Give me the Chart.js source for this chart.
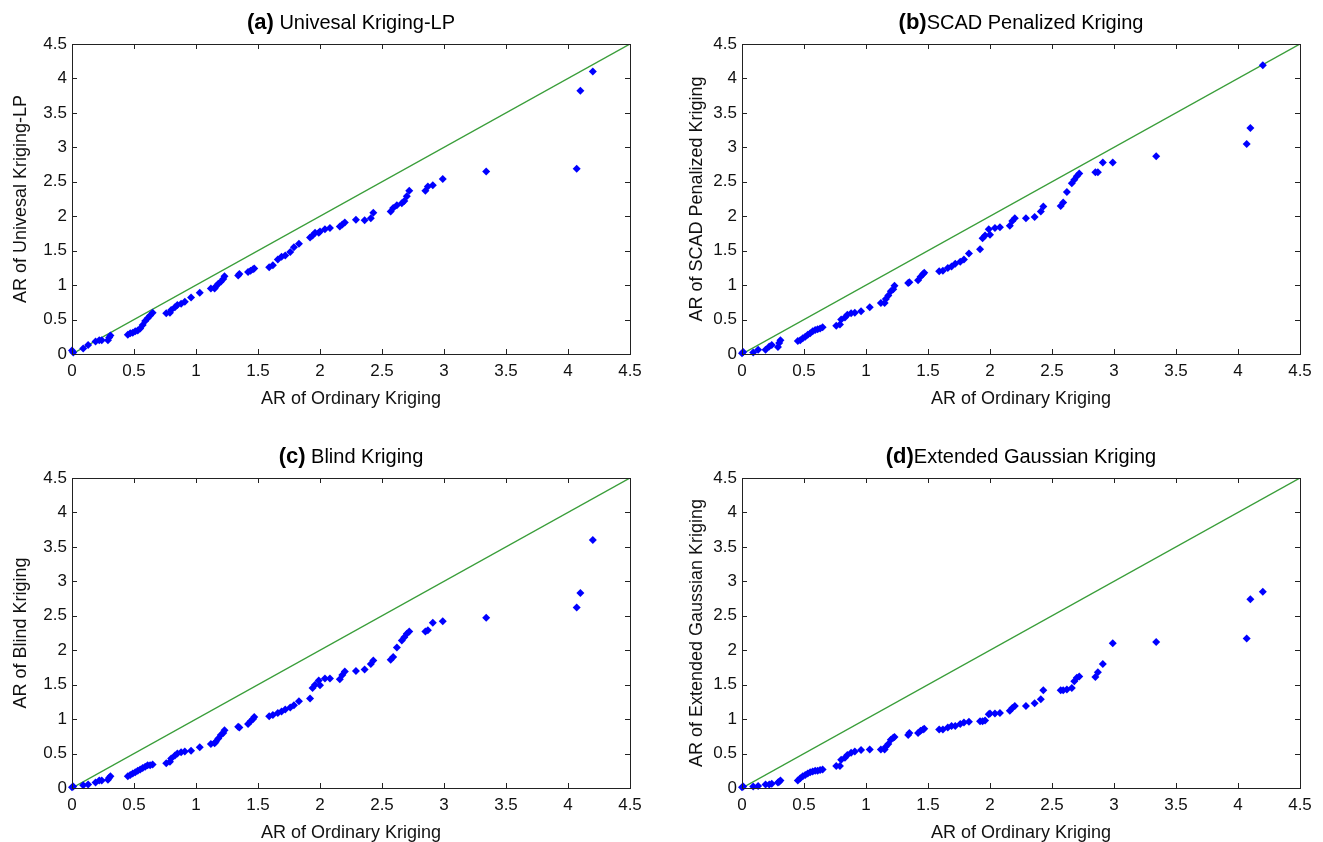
<!DOCTYPE html>
<html>
<head>
<meta charset="utf-8">
<script src="https://cdn.jsdelivr.net/npm/chart.js@4/dist/chart.umd.min.js"></script>
<style>
  html, body { margin: 0; padding: 0; background: #fff; }
  body { width: 1323px; height: 842px; position: relative; overflow: hidden; }
  .panel { position: absolute; width: 661px; height: 434px; }
</style>
</head>
<body>
<div class="panel" style="left:0;top:0"><canvas id="chartA" width="661" height="434"></canvas></div>
<div class="panel" style="left:670px;top:0"><canvas id="chartB" width="661" height="434"></canvas></div>
<div class="panel" style="left:0;top:434px"><canvas id="chartC" width="661" height="434"></canvas></div>
<div class="panel" style="left:670px;top:434px"><canvas id="chartD" width="661" height="434"></canvas></div>
<script>
// AR of Ordinary Kriging (shared x values)
const arOrdinary = [
  0.00, 0.01, 0.09, 0.13, 0.19, 0.22, 0.24, 0.29, 0.30, 0.31,
  0.45, 0.47, 0.49, 0.51, 0.53, 0.55, 0.57, 0.59, 0.61, 0.63, 0.65,
  0.76, 0.79, 0.80, 0.83, 0.85, 0.88, 0.91, 0.96,
  1.03,
  1.12, 1.15, 1.16, 1.18, 1.20, 1.22, 1.23,
  1.34, 1.35,
  1.42, 1.44, 1.46, 1.47,
  1.59, 1.62, 1.66, 1.69, 1.72, 1.76, 1.79, 1.83,
  1.92, 1.94, 1.96, 1.99, 2.00, 2.04, 2.08,
  2.16, 2.18, 2.20,
  2.29,
  2.36, 2.41, 2.43,
  2.57, 2.59, 2.62, 2.66, 2.68, 2.70, 2.72,
  2.85, 2.87, 2.91, 2.99,
  3.34, 4.07, 4.10, 4.20
];

// (a) Univesal Kriging-LP
const arUnivesalLP = [
  0.05, 0.02, 0.08, 0.13, 0.18, 0.20, 0.20, 0.20, 0.24, 0.27,
  0.28, 0.30, 0.31, 0.33, 0.34, 0.37, 0.42, 0.48, 0.52, 0.56, 0.60,
  0.59, 0.60, 0.64, 0.68, 0.71, 0.73, 0.76, 0.82,
  0.89,
  0.95, 0.95, 0.98, 1.02, 1.05, 1.09, 1.13,
  1.14, 1.16,
  1.19, 1.21, 1.23, 1.24,
  1.26, 1.29, 1.37, 1.41, 1.43, 1.48, 1.55, 1.60,
  1.69, 1.72, 1.76, 1.76, 1.78, 1.81, 1.83,
  1.85, 1.88, 1.91,
  1.95,
  1.94, 1.97, 2.05,
  2.07, 2.12, 2.16, 2.19, 2.22, 2.29, 2.37,
  2.37, 2.43, 2.45, 2.54,
  2.65, 2.69, 3.82, 4.10
];

// (b) SCAD Penalized Kriging
const arSCAD = [
  0.01, 0.03, 0.02, 0.06, 0.06, 0.11, 0.13, 0.10, 0.16, 0.20,
  0.19, 0.20, 0.23, 0.25, 0.28, 0.30, 0.33, 0.35, 0.36, 0.37, 0.39,
  0.41, 0.43, 0.50, 0.53, 0.57, 0.59, 0.60, 0.62,
  0.68,
  0.74, 0.74, 0.80, 0.85, 0.91, 0.94, 0.99,
  1.03, 1.04,
  1.07, 1.12, 1.16, 1.18,
  1.20, 1.21, 1.25, 1.27, 1.31, 1.34, 1.37, 1.46,
  1.52, 1.68, 1.72, 1.81, 1.73, 1.83, 1.84,
  1.86, 1.93, 1.97,
  1.97,
  1.99, 2.07, 2.14,
  2.15, 2.20, 2.35, 2.48, 2.53, 2.58, 2.62,
  2.64, 2.64, 2.78, 2.78,
  2.87, 3.05, 3.28, 4.19
];

// (c) Blind Kriging
const arBlind = [
  0.01, 0.02, 0.04, 0.05, 0.08, 0.11, 0.11, 0.12, 0.15, 0.17,
  0.17, 0.19, 0.21, 0.23, 0.25, 0.27, 0.29, 0.31, 0.33, 0.33, 0.34,
  0.36, 0.38, 0.43, 0.47, 0.50, 0.52, 0.53, 0.54,
  0.59,
  0.64, 0.65, 0.67, 0.72, 0.77, 0.80, 0.84,
  0.89, 0.88,
  0.93, 0.97, 1.00, 1.03,
  1.04, 1.06, 1.09, 1.11, 1.14, 1.17, 1.20, 1.26,
  1.30, 1.45, 1.50, 1.56, 1.49, 1.59, 1.59,
  1.58, 1.64, 1.69,
  1.70,
  1.72, 1.80, 1.85,
  1.86, 1.90, 2.04, 2.14, 2.19, 2.24, 2.27,
  2.27, 2.29, 2.40, 2.42,
  2.47, 2.62, 2.83, 3.60
];

// (d) Extended Gaussian Kriging
const arExtGauss = [
  0.01, 0.02, 0.02, 0.03, 0.05, 0.05, 0.06, 0.08, 0.09, 0.11,
  0.11, 0.14, 0.17, 0.19, 0.21, 0.23, 0.24, 0.25, 0.25, 0.26, 0.27,
  0.32, 0.32, 0.41, 0.44, 0.48, 0.51, 0.53, 0.55,
  0.56,
  0.56, 0.56, 0.60, 0.64, 0.70, 0.73, 0.74,
  0.77, 0.80,
  0.80, 0.83, 0.85, 0.86,
  0.85, 0.85, 0.88, 0.90, 0.90, 0.93, 0.95, 0.96,
  0.97, 0.97, 0.98, 1.07, 1.08, 1.08, 1.09,
  1.12, 1.16, 1.19,
  1.19,
  1.23, 1.29, 1.42,
  1.42, 1.42, 1.43, 1.45, 1.55, 1.60, 1.62,
  1.61, 1.68, 1.80, 2.10,
  2.12, 2.17, 2.74, 2.85
];

// reference line y = x
const diagonalEnds = [0, 4.5];
const tickValues = [0, 0.5, 1, 1.5, 2, 2.5, 3, 3.5, 4, 4.5];
const tickLabels = ['0', '0.5', '1', '1.5', '2', '2.5', '3', '3.5', '4', '4.5'];

const FONT = '"Liberation Sans", Arial, Helvetica, sans-serif';

function tickText(value) {
  const i = tickValues.findIndex(v => Math.abs(v - value) < 1e-9);
  return i >= 0 ? tickLabels[i] : '';
}

// Title with bold panel letter followed by plain text
const panelTitlePlugin = {
  id: 'panelTitle',
  afterDraw(chart, args, opts) {
    const { ctx, chartArea } = chart;
    ctx.save();
    const tagFont = 'bold 22px ' + FONT;
    const textFont = '20px ' + FONT;
    ctx.font = tagFont;
    const w1 = ctx.measureText(opts.tag).width;
    ctx.font = textFont;
    const w2 = ctx.measureText(opts.text).width;
    const x = (chartArea.left + chartArea.right) / 2 - (w1 + w2) / 2;
    ctx.textBaseline = 'middle';
    ctx.textAlign = 'left';
    ctx.fillStyle = '#000';
    ctx.font = tagFont;
    ctx.fillText(opts.tag, x, opts.y);
    ctx.font = textFont;
    ctx.fillText(opts.text, x + w1, opts.y);
    ctx.restore();
  }
};

// MATLAB style box with inward ticks on all four sides
const axesBoxPlugin = {
  id: 'axesBox',
  afterDraw(chart) {
    const { ctx, chartArea: a, scales } = chart;
    const len = 5;
    ctx.save();
    ctx.strokeStyle = '#222';
    ctx.lineWidth = 1;
    ctx.beginPath();
    scales.x.ticks.forEach(t => {
      const px = Math.round(scales.x.getPixelForValue(t.value)) + 0.5;
      ctx.moveTo(px, a.bottom); ctx.lineTo(px, a.bottom - len);
      ctx.moveTo(px, a.top); ctx.lineTo(px, a.top + len);
    });
    scales.y.ticks.forEach(t => {
      const py = Math.round(scales.y.getPixelForValue(t.value)) + 0.5;
      ctx.moveTo(a.left, py); ctx.lineTo(a.left + len, py);
      ctx.moveTo(a.right, py); ctx.lineTo(a.right - len, py);
    });
    ctx.stroke();
    ctx.strokeRect(Math.round(a.left) + 0.5, Math.round(a.top) + 0.5,
      Math.round(a.right - a.left), Math.round(a.bottom - a.top));
    ctx.restore();
  }
};

function makeChart(id, tag, text, yTitle, yValues, padLeft) {
  const points = arOrdinary.map((x, i) => ({ x: x, y: yValues[i] }));
  const ctx = document.getElementById(id).getContext('2d');
  return new Chart(ctx, {
    type: 'scatter',
    data: {
      datasets: [
        {
          data: points,
          backgroundColor: '#0000ff',
          borderColor: '#0000ff',
          pointStyle: 'rectRot',
          pointRadius: 4,
          borderWidth: 0,
          clip: false,
          order: 1
        },
        {
          type: 'line',
          data: diagonalEnds.map(v => ({ x: v, y: v })),
          borderColor: '#3a9e3a',
          borderWidth: 1.4,
          pointRadius: 0,
          fill: false,
          order: 2
        }
      ]
    },
    options: {
      responsive: false,
      animation: false,
      events: [],
      layout: { padding: { left: padLeft, right: 31, top: 44, bottom: 20 } },
      plugins: {
        legend: { display: false },
        tooltip: { enabled: false },
        panelTitle: { tag: tag, text: text, y: 23 }
      },
      scales: {
        x: {
          type: 'linear',
          min: tickValues[0],
          max: tickValues[tickValues.length - 1],
          grid: { display: false, drawTicks: false },
          border: { display: false },
          ticks: {
            stepSize: 0.5,
            padding: 7,
            color: '#111',
            font: { family: FONT, size: 17 },
            maxRotation: 0,
            callback: tickText
          },
          title: {
            display: true,
            text: 'AR of Ordinary Kriging',
            color: '#111',
            font: { family: FONT, size: 18 },
            padding: { top: 4, bottom: 4 }
          },
          afterFit(scale) { scale.height = 60; }
        },
        y: {
          type: 'linear',
          min: tickValues[0],
          max: tickValues[tickValues.length - 1],
          grid: { display: false, drawTicks: false },
          border: { display: false },
          ticks: {
            stepSize: 0.5,
            padding: 5,
            color: '#111',
            font: { family: FONT, size: 17 },
            callback: tickText
          },
          title: {
            display: true,
            text: yTitle,
            color: '#111',
            font: { family: FONT, size: 18 },
            padding: { top: 4, bottom: 4 }
          },
          afterFit(scale) { scale.width = 72 - padLeft; }
        }
      }
    },
    plugins: [panelTitlePlugin, axesBoxPlugin]
  });
}

makeChart('chartA', '(a)', ' Univesal Kriging-LP', 'AR of Univesal Kriging-LP', arUnivesalLP, 6);
makeChart('chartB', '(b)', 'SCAD Penalized Kriging', 'AR of SCAD Penalized Kriging', arSCAD, 12);
makeChart('chartC', '(c)', ' Blind Kriging', 'AR of Blind Kriging', arBlind, 6);
makeChart('chartD', '(d)', 'Extended Gaussian Kriging', 'AR of Extended Gaussian Kriging', arExtGauss, 12);
</script>
</body>
</html>
